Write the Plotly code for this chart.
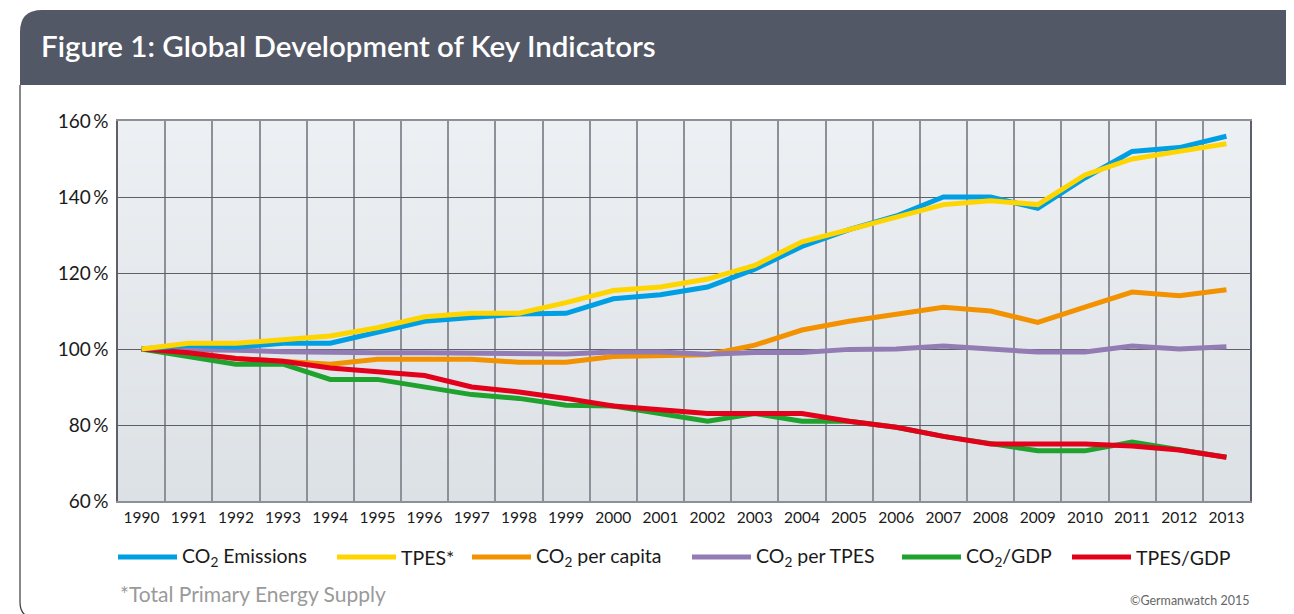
import plotly.graph_objects as go

years = [1990, 1991, 1992, 1993, 1994, 1995, 1996, 1997, 1998, 1999, 2000, 2001,
         2002, 2003, 2004, 2005, 2006, 2007, 2008, 2009, 2010, 2011, 2012, 2013]

co2_emissions = [100, 101, 100.5, 101.5, 101.5, 104.4, 107.3, 108.3, 109.2, 109.4, 113.2, 114.3,
                 116.3, 121, 127, 131.4, 135, 140, 140, 137, 145, 152, 153, 156]
tpes = [100, 101.5, 101.5, 102.5, 103.4, 105.6, 108.5, 109.4, 109.4, 112.2, 115.4, 116.3,
        118.4, 122, 128.2, 131.4, 134.7, 138, 139, 138, 145.8, 150, 152, 154]
co2_per_capita = [100, 99, 97.5, 96.6, 96, 97.3, 97.3, 97.3, 96.5, 96.5, 98, 98.3,
                  98.5, 101, 105, 107.3, 109.3, 111, 110, 107, 111, 115, 114, 115.6]
co2_per_tpes = [100, 100, 99.7, 99.3, 99, 99, 99, 99, 99, 98.7, 99.2, 99.2,
                98.6, 99.1, 99.1, 99.9, 100, 100.8, 100, 99.2, 99.2, 100.8, 100, 100.6]
co2_gdp = [100, 97.9, 96, 96, 92, 92, 90, 88, 87, 85.2, 85, 83,
           81, 83, 81, 81, 79.4, 77, 75, 73.2, 73.2, 75.5, 73.5, 71.5]
tpes_gdp = [100, 99, 97.5, 96.8, 95, 94, 93, 90, 88.7, 87, 85, 84,
            83, 83, 83, 81, 79.4, 77, 75, 75, 75, 74.5, 73.4, 71.5]

series_names = ["CO<sub>2</sub> Emissions", "TPES*", "CO<sub>2</sub> per capita",
                "CO<sub>2</sub> per TPES", "CO<sub>2</sub>/GDP", "TPES/GDP"]
series_values = [co2_emissions, tpes, co2_per_capita, co2_per_tpes, co2_gdp, tpes_gdp]
series_colors = ["#009fe3", "#ffd500", "#f39200", "#937cb3", "#1fa22e", "#e3001b"]
draw_order = [2, 3, 4, 5, 0, 1]

y_ticks = [60, 80, 100, 120, 140, 160]
y_ticktext = [f"{v}\u2009%" for v in y_ticks]

# page geometry (the html body adds an 8px offset)
OFF = 8
PAGE_W, PAGE_H = 1294, 614
W, H = PAGE_W - OFF, PAGE_H - OFF
L, R, T, B = 118, 1250, 121, 501   # plot area in page pixels
FONT = "Lato"


def px(x):
    return (x - L) / (R - L)


def py(y):
    return (B - y) / (B - T)


fig = go.Figure()
for i in draw_order:
    fig.add_trace(go.Scatter(
        x=years, y=series_values[i], mode="lines", name=series_names[i],
        line=dict(color=series_colors[i], width=5), showlegend=False,
    ))

shapes = []
# gradient plot background
n = 60
top_c = (237, 240, 243)
bot_c = (220, 225, 229)
for k in range(n):
    f = k / (n - 1)
    c = tuple(round(top_c[j] + (bot_c[j] - top_c[j]) * f) for j in range(3))
    shapes.append(dict(type="rect", xref="x domain", yref="y domain",
                       x0=0, x1=1, y0=1 - (k + 1) / n, y1=1 - k / n + 0.002,
                       fillcolor=f"rgb{c}", line=dict(width=0), layer="below"))

# header bar with rounded top-left corner
r = 22
hx0, hx1, hy0, hy1 = 20, 1300, 10, 85
path = (f"M {px(hx0)},{py(hy1)} L {px(hx0)},{py(hy0 + r)} "
        f"Q {px(hx0)},{py(hy0)} {px(hx0 + r)},{py(hy0)} "
        f"L {px(hx1)},{py(hy0)} L {px(hx1)},{py(hy1)} Z")
shapes.append(dict(type="path", xref="paper", yref="paper", path=path,
                   fillcolor="#535866", line=dict(width=0), layer="below"))
# card border on left with rounded bottom-left corner
rb = 16
bpath = (f"M {px(20)},{py(85)} L {px(20)},{py(614 - rb + 4)} "
         f"Q {px(20)},{py(618)} {px(20 + rb)},{py(618)}")
shapes.append(dict(type="path", xref="paper", yref="paper", path=bpath,
                   line=dict(color="#3a3a3a", width=1.2), layer="below"))

annotations = [
    dict(text="Figure 1: Global Development of Key Indicators", xref="paper", yref="paper",
         x=px(39), y=py(46), xanchor="left", yanchor="middle", showarrow=False,
         font=dict(family=FONT, size=29.5, color="#ffffff", weight=600)),
    dict(text="*Total Primary Energy Supply", xref="paper", yref="paper",
         x=px(118), y=py(593), xanchor="left", yanchor="middle", showarrow=False,
         font=dict(family=FONT, size=21, color="#9a9a9a")),
    dict(text="©Germanwatch 2015", xref="paper", yref="paper",
         x=px(1252), y=py(600), xanchor="right", yanchor="middle", showarrow=False,
         font=dict(family=FONT, size=12.5, color="#666666")),
]

# manual legend
leg_line_x = [118, 337, 472, 692, 902, 1072]
leg_y = 557
for i in range(len(series_names)):
    x0 = leg_line_x[i]
    shapes.append(dict(type="line", xref="paper", yref="paper",
                       x0=px(x0), x1=px(x0 + 59), y0=py(leg_y), y1=py(leg_y),
                       line=dict(color=series_colors[i], width=5)))
    annotations.append(dict(text=series_names[i], xref="paper", yref="paper",
                            x=px(x0 + 62), y=py(leg_y), xanchor="left", yanchor="middle",
                            showarrow=False,
                            font=dict(family=FONT, size=19.5, color="#1a1a1a")))

grid_h = "#5d6069"
grid_v = "#8d9099"

fig.update_layout(
    width=W, height=H,
    margin=dict(l=L - OFF, r=W - (R - OFF), t=T - OFF, b=H - (B - OFF), pad=0),
    paper_bgcolor="#ffffff",
    plot_bgcolor="rgba(0,0,0,0)",
    showlegend=False,
    shapes=shapes,
    annotations=annotations,
    xaxis=dict(
        range=[1989.5, 2013.5], tickvals=years, ticktext=[str(y) for y in years],
        showgrid=False, zeroline=False, ticks="", ticklen=0,
        ticklabelstandoff=2,
        tickfont=dict(family=FONT, size=15.5, color="#1a1a1a"),
        showline=True, linecolor=grid_v, linewidth=1.5, mirror=True,
        minor=dict(tickvals=[y + 0.5 for y in years[:-1]], showgrid=True,
                   gridcolor=grid_v, gridwidth=2, ticks=""),
        layer="below traces",
    ),
    yaxis=dict(
        range=[60, 160], tickvals=y_ticks, ticktext=y_ticktext,
        showgrid=True, gridcolor=grid_h, gridwidth=1.3, zeroline=False,
        ticks="", ticklen=0, ticklabelstandoff=4,
        tickfont=dict(family=FONT, size=19, color="#1a1a1a"),
        showline=True, linecolor=grid_h, linewidth=1.5, mirror=True,
    ),
)

fig.write_html("out.html")
